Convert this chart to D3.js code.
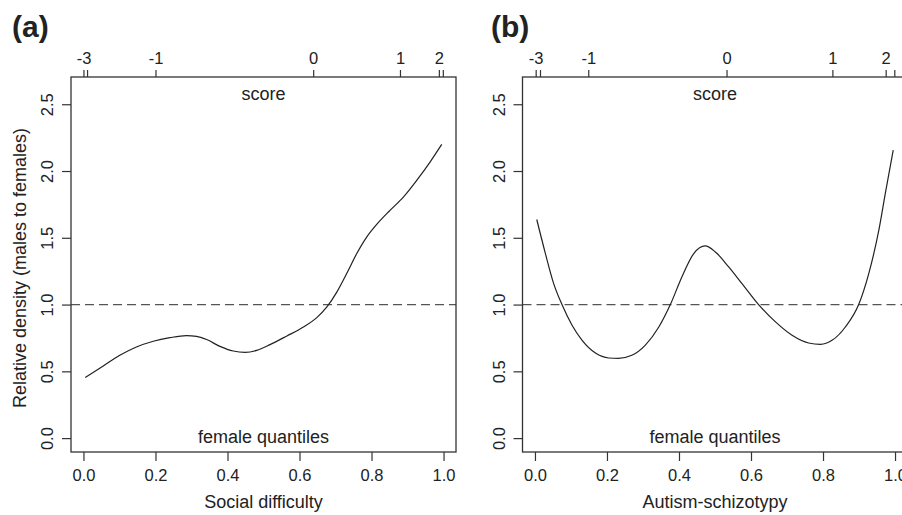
<!DOCTYPE html>
<html>
<head>
<meta charset="utf-8">
<script src="https://cdn.jsdelivr.net/npm/d3@7/dist/d3.min.js"></script>
<style>
  body { margin: 0; background: #fff; }
  svg { display: block; }
  text { font-family: "Liberation Sans", Arial, Helvetica, sans-serif; fill: #222; }
</style>
</head>
<body>
<svg id="chart" width="902" height="515"></svg>
<script>
// relative density curves (x = female quantile)
var qA = [0.005, 0.055, 0.101, 0.147, 0.194, 0.240, 0.286, 0.314, 0.342, 0.379, 0.416, 0.449,
  0.481, 0.518, 0.565, 0.611, 0.648, 0.676, 0.704, 0.731, 0.759, 0.787, 0.815, 0.852, 0.889,
  0.926, 0.963, 0.995];
var relA = [0.453, 0.540, 0.620, 0.682, 0.725, 0.752, 0.768, 0.762, 0.738, 0.687, 0.652, 0.642,
  0.657, 0.700, 0.765, 0.832, 0.902, 0.982, 1.095, 1.232, 1.382, 1.507, 1.602, 1.707, 1.807,
  1.932, 2.069, 2.199];

var qB = [0.005, 0.029, 0.052, 0.075, 0.103, 0.131, 0.168, 0.205, 0.232, 0.269, 0.306, 0.344,
  0.376, 0.408, 0.441, 0.473, 0.501, 0.538, 0.575, 0.621, 0.668, 0.714, 0.760, 0.793, 0.825,
  0.862, 0.899, 0.927, 0.955, 0.973, 0.995];
var relB = [1.637, 1.382, 1.157, 1.0, 0.845, 0.732, 0.637, 0.600, 0.597, 0.620, 0.695, 0.832,
  1.0, 1.207, 1.382, 1.439, 1.394, 1.282, 1.157, 1.0, 0.870, 0.770, 0.712, 0.702, 0.732,
  0.832, 1.0, 1.232, 1.557, 1.832, 2.157];

// top axis: score values and their position on the female quantile scale
var scoreTicks = [-3, -2, -1, 0, 1, 2, 3];
var scorePosA = [0.0, 0.010, 0.200, 0.638, 0.879, 0.987, 0.998];
var scorePosB = [0.002, 0.014, 0.148, 0.532, 0.826, 0.974, 0.998];

var xTicks = [0, 0.2, 0.4, 0.6, 0.8, 1.0];
var yTicks = [0, 0.5, 1.0, 1.5, 2.0, 2.5];

var svg = d3.select("#chart"),
  plotTop = 77, plotBottom = 452,
  y = d3.scaleLinear().domain([-0.104, 2.704]).range([plotBottom, plotTop]);

drawPanel({ left: 71, right: 456, tag: "(a)", tagX: 12, q: qA, rel: relA, pos: scorePosA,
  xlab: "Social difficulty", ylab: "Relative density (males to females)" });
drawPanel({ left: 522.5, right: 907.5, tag: "(b)", tagX: 491, q: qB, rel: relB, pos: scorePosB,
  xlab: "Autism-schizotypy", ylab: null });

function drawPanel(p) {
  var x = d3.scaleLinear().domain([-0.0346, 1.0346]).range([p.left, p.right]);
  var g = svg.append("g");
  var mid = (p.left + p.right) / 2;

  // reference line at 1
  g.append("line")
    .attr("x1", p.left).attr("x2", p.right)
    .attr("y1", y(1)).attr("y2", y(1))
    .attr("stroke", "#555").attr("stroke-width", 1.2)
    .attr("stroke-dasharray", "9,5");

  var line = d3.line()
    .x(function (d, i) { return x(p.q[i]); })
    .y(function (d) { return y(d); })
    .curve(d3.curveMonotoneX);

  g.append("path")
    .datum(p.rel)
    .attr("d", line)
    .attr("fill", "none")
    .attr("stroke", "#222")
    .attr("stroke-width", 1.2);

  // box
  g.append("rect")
    .attr("x", p.left).attr("y", plotTop)
    .attr("width", p.right - p.left).attr("height", plotBottom - plotTop)
    .attr("fill", "none").attr("stroke", "#333").attr("stroke-width", 1.3);

  // bottom axis
  var ax = g.append("g")
    .attr("transform", "translate(0," + plotBottom + ")")
    .call(d3.axisBottom(x).tickValues(xTicks).tickSize(9).tickPadding(8)
      .tickFormat(d3.format(".1f")));
  styleAxis(ax);

  // left axis, labels rotated like R
  var ay = g.append("g")
    .attr("transform", "translate(" + p.left + ",0)")
    .call(d3.axisLeft(y).tickValues(yTicks).tickSize(9).tickFormat(d3.format(".1f")));
  styleAxis(ay);
  ay.selectAll(".tick text")
    .attr("x", null).attr("dy", null)
    .attr("text-anchor", "middle")
    .attr("transform", "translate(-18,0) rotate(-90)");

  // top axis with score values, skip labels that would overlap
  var lastX = -100;
  var at = g.append("g")
    .attr("transform", "translate(0," + plotTop + ")")
    .call(d3.axisTop(x).tickValues(p.pos).tickSize(7).tickPadding(6)
      .tickFormat(function (d, i) { return scoreTicks[i]; }));
  styleAxis(at);
  at.selectAll(".tick text").each(function (d) {
    var px = x(d);
    if (px - lastX < 22) d3.select(this).remove();
    else lastX = px;
  });

  g.append("text").attr("x", mid).attr("y", 100)
    .attr("text-anchor", "middle").style("font-size", "18px").text("score");
  g.append("text").attr("x", mid).attr("y", 443)
    .attr("text-anchor", "middle").style("font-size", "18px").text("female quantiles");
  g.append("text").attr("x", x(0.5)).attr("y", 508)
    .attr("text-anchor", "middle").style("font-size", "18px").text(p.xlab);

  if (p.ylab) {
    g.append("text")
      .attr("transform", "translate(26,268) rotate(-90)")
      .attr("text-anchor", "middle").style("font-size", "18px").text(p.ylab);
  }

  g.append("text").attr("x", p.tagX).attr("y", 37)
    .style("font-size", "30px").style("font-weight", "bold").text(p.tag);
}

function styleAxis(a) {
  a.select(".domain").remove();
  a.selectAll(".tick line").attr("stroke", "#333").attr("stroke-width", 1.2);
  a.selectAll(".tick text").style("font-size", "16.5px").attr("fill", "#222");
}
</script>
</body>
</html>
